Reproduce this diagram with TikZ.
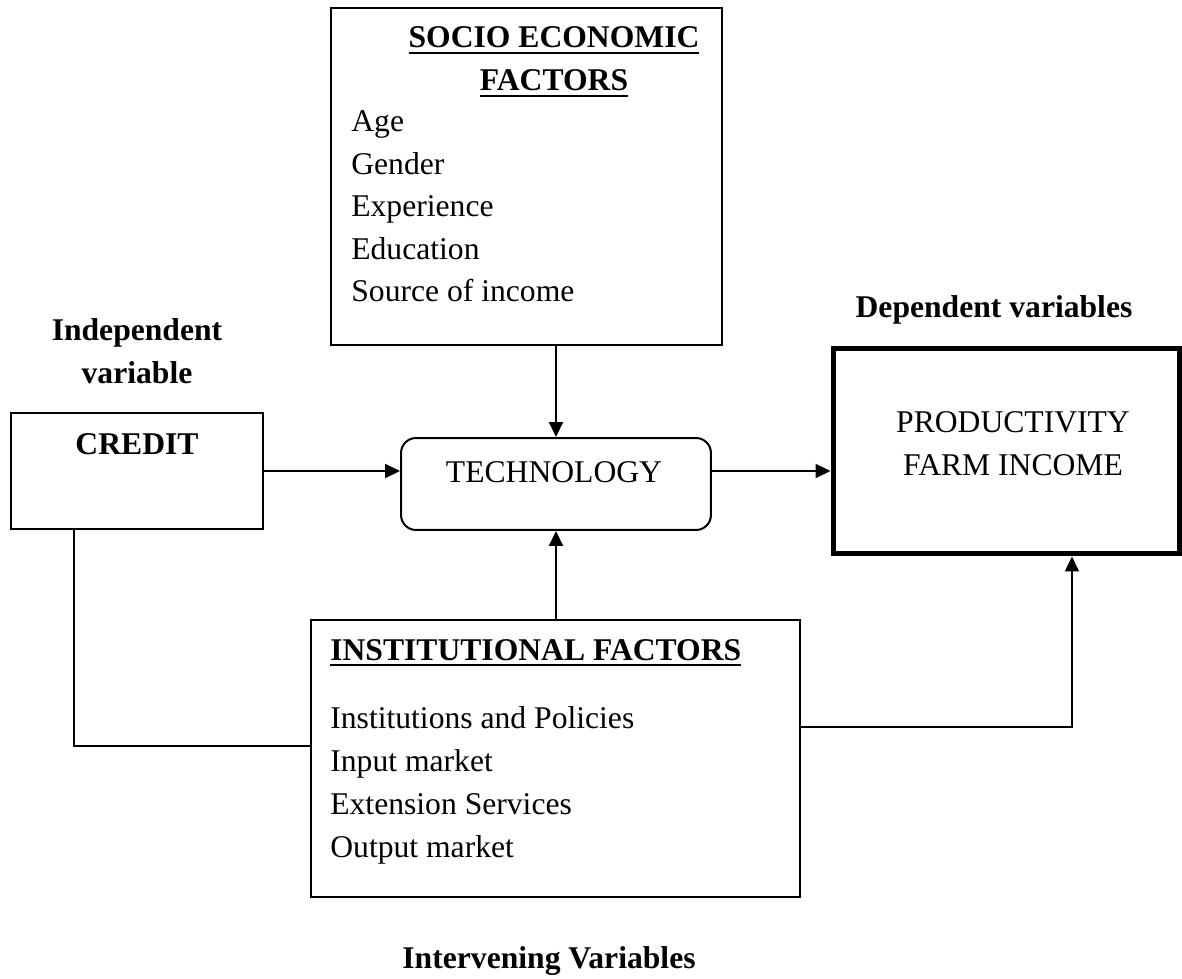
\documentclass[tikz,border=0pt]{standalone}
\usepackage{fontspec}
\setmainfont{Liberation Serif}
\usetikzlibrary{arrows.meta, calc}
\newsavebox{\hdbox}
% bold heading with a heavy underline
\newcommand{\ulbf}[1]{\sbox{\hdbox}{\bfseries #1}%
  \rlap{\rule[-3.6pt]{\wd\hdbox}{1.6pt}}\usebox{\hdbox}}

\begin{document}
\begin{tikzpicture}[
   x=0.02cm, y=-0.02cm,
   font=\fontsize{18pt}{24.2pt}\selectfont,
   box/.style={draw, line width=0.04cm, inner sep=0pt},
   txt/.style={inner sep=0pt, anchor=base},
   entry/.style={inner sep=0pt, anchor=base west},
   arr/.style={-{Triangle[length=0.3cm, width=0.28cm]}, line width=0.04cm}]

  \useasboundingbox (0,0) rectangle (1182,979);

  % boxes
  \node[box, minimum width=7.82cm, minimum height=6.74cm] (socio) at (526.5,176.5) {};
  \node[box, minimum width=5.04cm, minimum height=2.32cm] (credit) at (137,471) {};
  \node[box, rounded corners=0.3cm, minimum width=6.2cm, minimum height=1.84cm] (tech) at (556,484) {};
  \node[box, line width=0.1cm, minimum width=6.94cm, minimum height=4.12cm] (prod) at (1006.5,451) {};
  \node[box, minimum width=9.78cm, minimum height=5.54cm] (inst) at (555.5,758.5) {};

  % socio economic factors
  \node[txt] (socio-h1) at (554,48) {\ulbf{SOCIO ECONOMIC}};
  \node[txt] (socio-h2) at (554,91) {\ulbf{FACTORS}};
  \foreach \f [count=\i from 0] in {Age, Gender, Experience, Education, Source of income}
    \node[entry] (socio-\i) at (351,{132+42.5*\i}) {\f};

  % institutional factors
  \node[entry] (inst-h) at (330,660) {\ulbf{INSTITUTIONAL FACTORS}};
  \foreach \f [count=\i from 0] in {Institutions and Policies, Input market,
                                    Extension Services, Output market}
    \node[entry] (inst-\i) at (330,{728+43*\i}) {\f};

  % base of a two-line node = last line
  \node[txt] (credit-t) at (137,454) {\textbf{CREDIT}};
  \node[txt] (tech-t) at (554,482) {TECHNOLOGY};
  \node[txt, align=center] (prod-t) at (1013,475) {PRODUCTIVITY\\FARM INCOME};

  % variable labels
  \node[txt, align=center] (indep) at (137,383) {\textbf{Independent}\\\textbf{variable}};
  \node[txt] (dep) at (994,318) {\textbf{Dependent variables}};
  \node[txt] (interv) at (549,968) {\textbf{Intervening Variables}};

  % links
  \draw[arr] (credit.east) -- (credit.east -| tech.west);
  \draw[arr] (credit.east -| tech.east) -- (credit.east -| prod.west);
  \draw[arr] (socio.south -| tech.north) -- (tech.north);
  \draw[arr] (inst.north -| tech.south) -- (tech.south);
  \draw[line width=0.04cm] ($(credit.south west)!0.25!(credit.south east)$) |- ($(inst.west)+(0,-13)$);
  \draw[arr] ($(inst.east)+(0,-32)$) -| ($(prod.south west)!0.686!(prod.south east)$);
\end{tikzpicture}
\end{document}
